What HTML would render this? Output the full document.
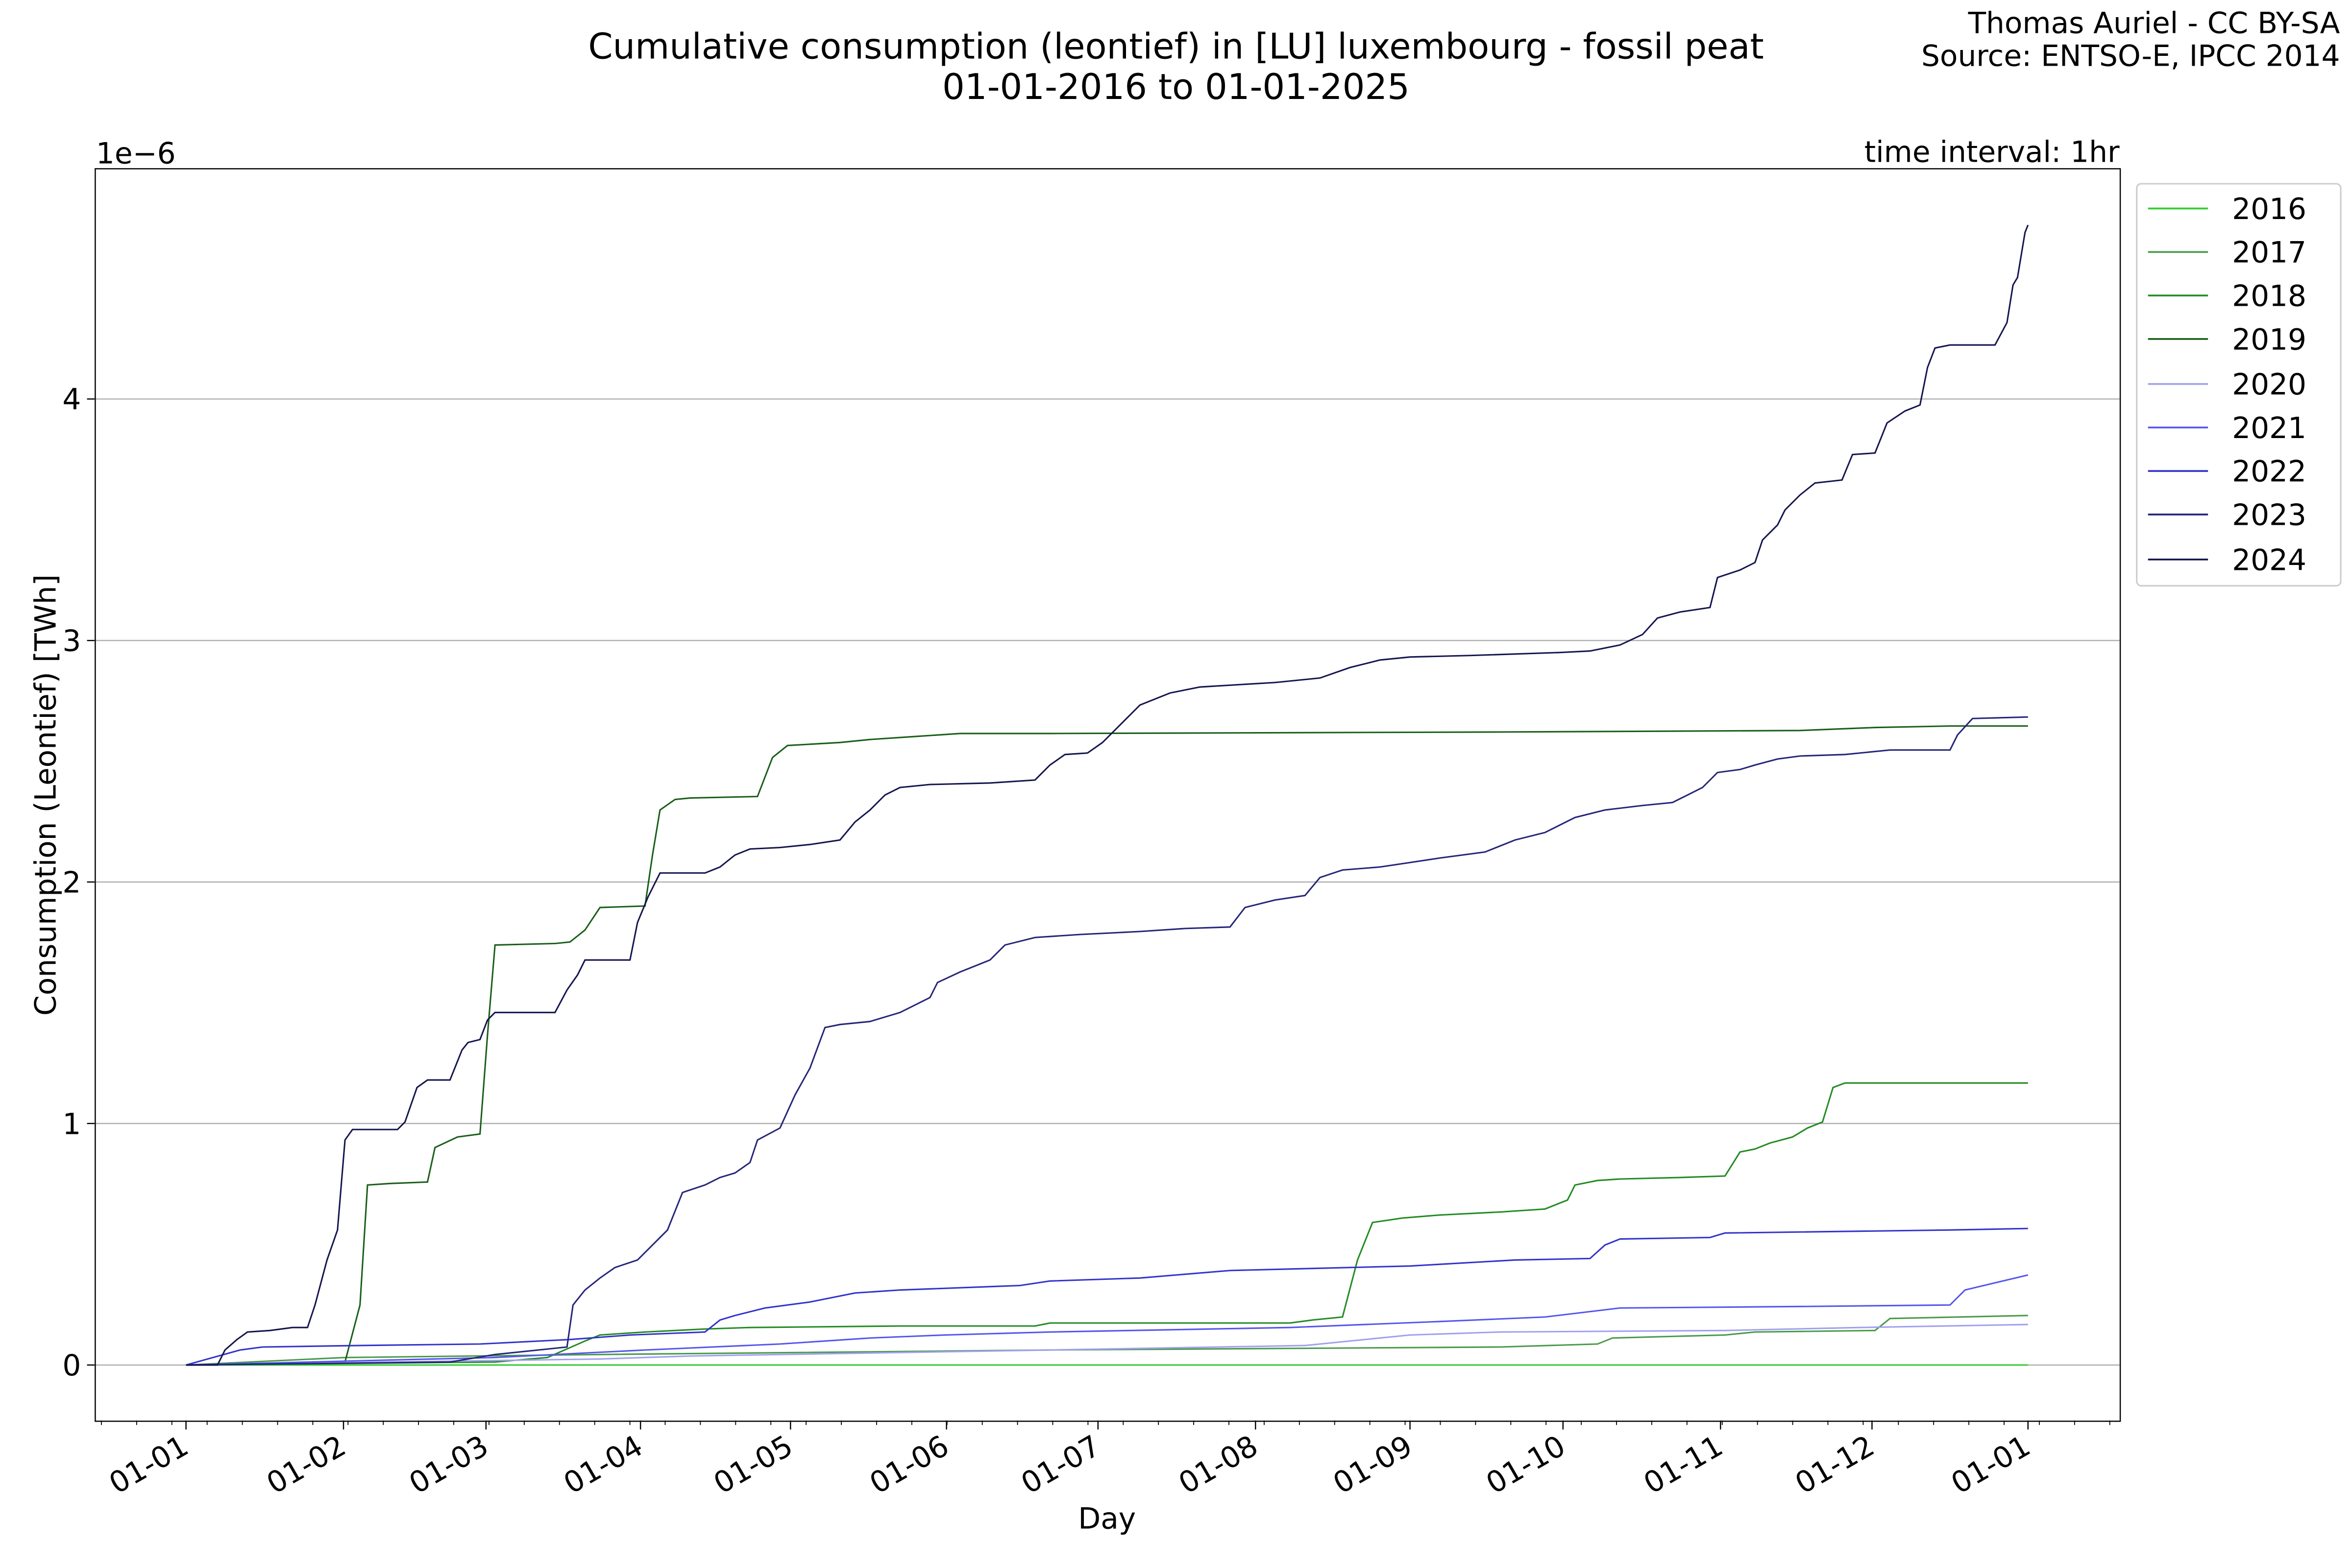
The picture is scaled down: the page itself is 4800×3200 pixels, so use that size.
<!DOCTYPE html>
<html><head><meta charset="utf-8"><style>html,body{margin:0;padding:0;background:#fff}svg{display:block}</style></head><body>
<svg width="4800" height="3200" viewBox="0 0 1568 1045.33" xmlns="http://www.w3.org/2000/svg" font-family="DejaVu Sans, Liberation Sans, sans-serif">
<rect width="1568" height="1046" fill="#fff"/>
<g stroke="#b0b0b0" stroke-width="0.8">
<line x1="63" x2="1413" y1="910" y2="910"/><line x1="63" x2="1413" y1="749" y2="749"/><line x1="63" x2="1413" y1="588" y2="588"/><line x1="63" x2="1413" y1="427" y2="427"/><line x1="63" x2="1413" y1="266" y2="266"/>
</g>
<g fill="none" stroke-width="1">
<polyline stroke="#33cc33" points="124,910 1352,910"/>
<polyline stroke="#4a9a4a" points="124,910 230,905 400,903 700,900 1000,898 1065,896 1075,892 1150,890 1170,888 1250,887 1260,879 1352,877"/>
<polyline stroke="#228b22" points="124,910 330,908 365,905 390,894 400,890 430,888 470,886 500,885 600,884 690,884 700,882 860,882 875,880 895,878 905,840 915,815 935,812 960,810 1000,808 1030,806 1045,800 1050,790 1065,787 1080,786 1120,785 1150,784 1160,768 1170,766 1180,762 1195,758 1205,752 1215,748 1222,725 1230,722 1352,722"/>
<polyline stroke="#1a5e1a" points="124,910 230,908 240,870 245,790 260,789 285,788 290,765 305,758 320,756 325,690 330,630 370,629 380,628 390,620 400,605 430,604 435,570 440,540 450,533 460,532 505,531 515,505 525,497 560,495 580,493 610,491 640,489 700,489 1000,488 1200,487 1250,485 1300,484 1352,484"/>
<polyline stroke="#a0a0f0" points="124,910 400,906 460,904 700,900 870,897 940,890 1000,888 1150,887 1240,885 1352,883"/>
<polyline stroke="#5555ee" points="124,910 330,905 430,900 520,896 580,892 630,890 700,888 860,885 960,881 1030,878 1080,872 1200,871 1300,870 1310,860 1352,850"/>
<polyline stroke="#3333cc" points="124,910 160,900 175,898 240,897 320,896 380,893 420,890 470,888 480,880 490,877 510,872 540,868 570,862 600,860 680,857 700,854 760,852 820,847 860,846 940,844 1010,840 1060,839 1070,830 1080,826 1140,825 1150,822 1300,820 1352,819"/>
<polyline stroke="#25257a" points="124,910 300,908 330,903 378,898 382,870 390,860 400,852 410,845 425,840 440,825 445,820 455,795 470,790 480,785 490,782 500,775 505,760 520,752 530,730 540,712 550,685 560,683 580,681 600,675 620,665 625,655 640,648 660,640 670,630 690,625 720,623 760,621 790,619 820,618 830,605 850,600 870,597 880,585 895,580 920,578 940,575 960,572 990,568 1010,560 1030,555 1040,550 1050,545 1070,540 1095,537 1115,535 1125,530 1135,525 1145,515 1160,513 1170,510 1185,506 1200,504 1230,503 1240,502 1260,500 1300,500 1305,490 1315,479 1352,478"/>
<polyline stroke="#15154f" points="124,910 145,910 150,900 158,893 165,888 180,887 195,885 205,885 210,870 218,840 225,820 230,760 235,753 265,753 270,748 278,725 285,720 300,720 308,700 312,695 320,693 325,680 330,675 370,675 378,660 385,650 390,640 420,640 425,615 432,598 440,582 470,582 480,578 490,570 500,566 520,565 540,563 560,560 570,548 580,540 590,530 600,525 620,523 660,522 690,520 700,510 710,503 725,502 735,495 745,485 760,470 780,462 800,458 850,455 880,452 900,445 920,440 940,438 980,437 1040,435 1060,434 1080,430 1095,423 1105,412 1120,408 1140,405 1145,385 1160,380 1170,375 1175,360 1185,350 1190,340 1200,330 1210,322 1228,320 1235,303 1250,302 1258,282 1270,274 1280,270 1285,245 1290,232 1300,230 1330,230 1338,215 1342,190 1345,185 1350,155 1352,150"/>
</g>
<rect x="63.5" y="112.5" width="1350" height="835" fill="none" stroke="#000" stroke-width="0.8"/>
<g stroke="#000" stroke-width="0.8">
<line x1="58" x2="63" y1="910" y2="910"/><line x1="58" x2="63" y1="749" y2="749"/><line x1="58" x2="63" y1="588" y2="588"/><line x1="58" x2="63" y1="427" y2="427"/><line x1="58" x2="63" y1="266" y2="266"/>
<line x1="124" x2="124" y1="947" y2="953"/><line x1="229" x2="229" y1="947" y2="953"/><line x1="324" x2="324" y1="947" y2="953"/><line x1="427" x2="427" y1="947" y2="953"/><line x1="527" x2="527" y1="947" y2="953"/><line x1="631" x2="631" y1="947" y2="953"/><line x1="732" x2="732" y1="947" y2="953"/><line x1="837" x2="837" y1="947" y2="953"/><line x1="940" x2="940" y1="947" y2="953"/><line x1="1042" x2="1042" y1="947" y2="953"/><line x1="1147" x2="1147" y1="947" y2="953"/><line x1="1248" x2="1248" y1="947" y2="953"/><line x1="1352" x2="1352" y1="947" y2="953"/>
<path id="minor" stroke-width="0.6" d=""/>
</g>
<script>
(function(){var d="";for(var k=0;k<58;k++){var x=67.6+23.49*k;if(x>1413)break;d+="M"+x.toFixed(2)+" 947V950 ";}document.getElementById("minor").setAttribute("d",d);})();
</script>
<g font-size="19.5" text-anchor="end" fill="#000">
<text x="54" y="917">0</text><text x="54" y="756">1</text><text x="54" y="595">2</text><text x="54" y="434">3</text><text x="54" y="273">4</text>
</g>
<g font-size="19.5" text-anchor="end" fill="#000">
<text transform="translate(127,968) rotate(-30)">01-01</text>
<text transform="translate(232,968) rotate(-30)">01-02</text>
<text transform="translate(327,968) rotate(-30)">01-03</text>
<text transform="translate(430,968) rotate(-30)">01-04</text>
<text transform="translate(530,968) rotate(-30)">01-05</text>
<text transform="translate(634,968) rotate(-30)">01-06</text>
<text transform="translate(735,968) rotate(-30)">01-07</text>
<text transform="translate(840,968) rotate(-30)">01-08</text>
<text transform="translate(943,968) rotate(-30)">01-09</text>
<text transform="translate(1045,968) rotate(-30)">01-10</text>
<text transform="translate(1150,968) rotate(-30)">01-11</text>
<text transform="translate(1251,968) rotate(-30)">01-12</text>
<text transform="translate(1355,968) rotate(-30)">01-01</text>
</g>
<text x="738" y="1019" font-size="19.5" text-anchor="middle">Day</text>
<text transform="translate(37,530) rotate(-90)" font-size="19.5" text-anchor="middle">Consumption (Leontief) [TWh]</text>
<text x="64" y="109" font-size="19.5">1e−6</text>
<text x="1413" y="108" font-size="19.5" text-anchor="end">time interval: 1hr</text>
<text x="784" y="39" font-size="23.5" text-anchor="middle">Cumulative consumption (leontief) in [LU] luxembourg - fossil peat</text>
<text x="784" y="66" font-size="23.5" text-anchor="middle">01-01-2016 to 01-01-2025</text>
<text x="1560" y="22" font-size="19.5" text-anchor="end">Thomas Auriel - CC BY-SA</text>
<text x="1560" y="44" font-size="19.5" text-anchor="end">Source: ENTSO-E, IPCC 2014</text>
<rect x="1424.5" y="122.5" width="136" height="268" rx="3" fill="#fff" stroke="#ccc"/>
<g stroke-width="1.2">
<line x1="1432" x2="1472" y1="139" y2="139" stroke="#33cc33"/>
<line x1="1432" x2="1472" y1="168" y2="168" stroke="#4a9a4a"/>
<line x1="1432" x2="1472" y1="197" y2="197" stroke="#228b22"/>
<line x1="1432" x2="1472" y1="226" y2="226" stroke="#1a5e1a"/>
<line x1="1432" x2="1472" y1="256" y2="256" stroke="#a0a0f0"/>
<line x1="1432" x2="1472" y1="285" y2="285" stroke="#5555ee"/>
<line x1="1432" x2="1472" y1="314" y2="314" stroke="#3333cc"/>
<line x1="1432" x2="1472" y1="343" y2="343" stroke="#25257a"/>
<line x1="1432" x2="1472" y1="373" y2="373" stroke="#15154f"/>
</g>
<g font-size="19.5">
<text x="1488" y="146">2016</text><text x="1488" y="175">2017</text><text x="1488" y="204">2018</text><text x="1488" y="233">2019</text><text x="1488" y="263">2020</text><text x="1488" y="292">2021</text><text x="1488" y="321">2022</text><text x="1488" y="350">2023</text><text x="1488" y="380">2024</text>
</g>
</svg>
</body></html>
